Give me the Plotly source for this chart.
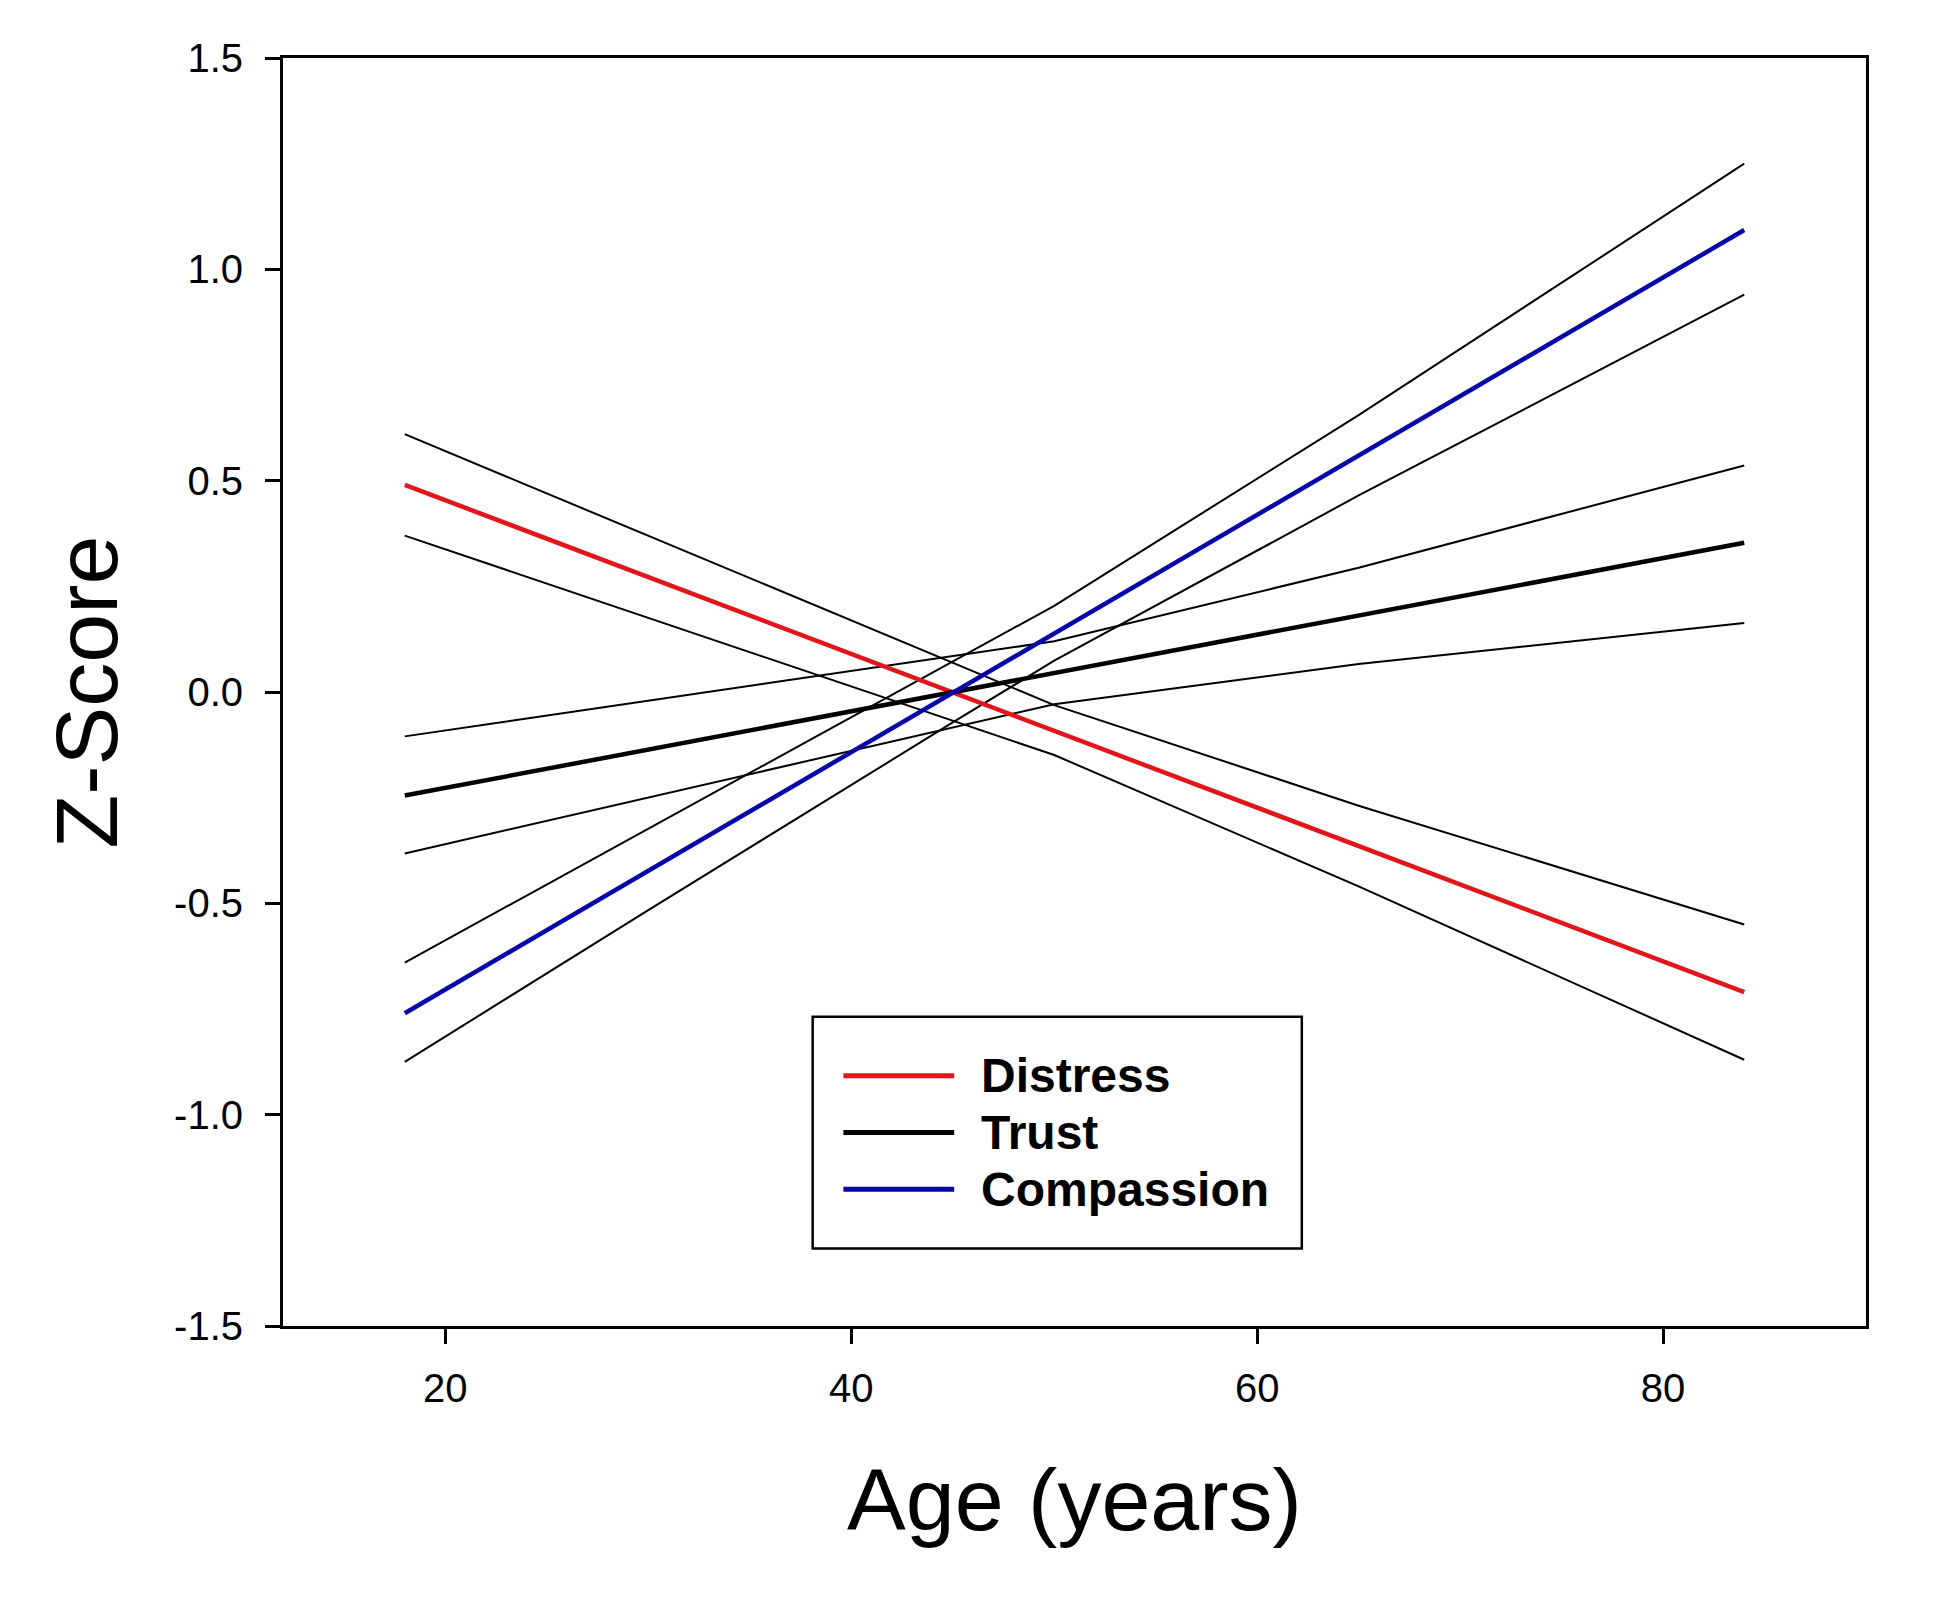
import plotly.graph_objects as go

# Age at the ends of the fitted regression lines (years)
age_fit = [18, 84]
# Age sample points along the confidence bands (they pinch in near age 45-50)
age_band = [18, 30, 45, 50, 65, 84]

# Fitted z-scores
distress = [0.49, -0.71]
trust = [-0.245, 0.353]
compassion = [-0.76, 1.093]

# 95% confidence bands (upper / lower)
distress_hi = [0.61, 0.37, 0.07, -0.031, -0.269, -0.55]
distress_lo = [0.37, 0.175, -0.068, -0.149, -0.46, -0.87]
trust_hi = [-0.105, -0.021, 0.084, 0.12, 0.294, 0.536]
trust_lo = [-0.382, -0.25, -0.085, -0.029, 0.066, 0.163]
compassion_hi = [-0.64, -0.323, 0.072, 0.204, 0.655, 1.25]
compassion_lo = [-0.875, -0.516, -0.072, 0.074, 0.465, 0.94]

series_names = ['Distress', 'Trust', 'Compassion']
series_colors = ['rgb(226,22,26)', 'black', 'rgb(6,6,168)']

x_ticks = [20, 40, 60, 80]
y_ticks = [-1.5, -1.0, -0.5, 0.0, 0.5, 1.0, 1.5]
y_tick_labels = ['-1.5', '-1.0', '-0.5', '0.0', '0.5', '1.0', '1.5']

FONT = 'Liberation Sans, Arial, sans-serif'

fig = go.Figure()

# confidence bands first (thin black)
for band in [distress_hi, distress_lo, trust_hi, trust_lo, compassion_hi, compassion_lo]:
    fig.add_trace(go.Scatter(x=age_band, y=band, mode='lines',
                             line=dict(color='black', width=2),
                             showlegend=False, hoverinfo='skip'))

# fitted lines on top
for name, vals, col in zip(series_names, [distress, trust, compassion], series_colors):
    fig.add_trace(go.Scatter(x=age_fit, y=vals, mode='lines', name=name,
                             line=dict(color=col, width=4.5),
                             showlegend=False))

# hand-drawn legend box so the sample lines are as long as the original
shapes = [dict(type='rect', xref='paper', yref='paper',
               x0=0.3346, x1=0.6436, y0=0.0612, y1=0.2439,
               line=dict(color='black', width=2.5), fillcolor='white', layer='above')]
annotations = []
legend_y = [0.1973, 0.1526, 0.1079]
for name, col, ly in zip(series_names, series_colors, legend_y):
    shapes.append(dict(type='line', xref='paper', yref='paper',
                       x0=0.354, x1=0.424, y0=ly, y1=ly,
                       line=dict(color=col, width=5), layer='above'))
    annotations.append(dict(xref='paper', yref='paper', x=0.4397, y=ly,
                            text='<b>%s</b>' % name, showarrow=False,
                            xanchor='left', yanchor='middle',
                            font=dict(family=FONT, size=48, color='black')))

fig.update_layout(
    width=1933,
    height=1603,
    paper_bgcolor='white',
    plot_bgcolor='white',
    margin=dict(l=275, r=75, t=50, b=285),
    font=dict(family=FONT, color='black'),
    shapes=shapes,
    annotations=annotations,
    xaxis=dict(
        range=[12, 90],
        tickvals=x_ticks,
        ticks='outside', ticklen=15, tickwidth=2.5, tickcolor='black',
        ticklabelstandoff=10,
        showline=True, linecolor='black', linewidth=3, mirror=True,
        showgrid=False, zeroline=False,
        tickfont=dict(family=FONT, size=40),
        title=dict(text='Age (years)', font=dict(family=FONT, size=88), standoff=60),
    ),
    yaxis=dict(
        range=[-1.5, 1.5],
        tickvals=y_ticks,
        ticktext=y_tick_labels,
        ticks='outside', ticklen=15, tickwidth=2.5, tickcolor='black',
        ticklabelstandoff=14,
        showline=True, linecolor='black', linewidth=3, mirror=True,
        showgrid=False, zeroline=False,
        tickfont=dict(family=FONT, size=40),
        title=dict(text='Z-Score', font=dict(family=FONT, size=88), standoff=28),
    ),
)

fig.write_html("out.html")
